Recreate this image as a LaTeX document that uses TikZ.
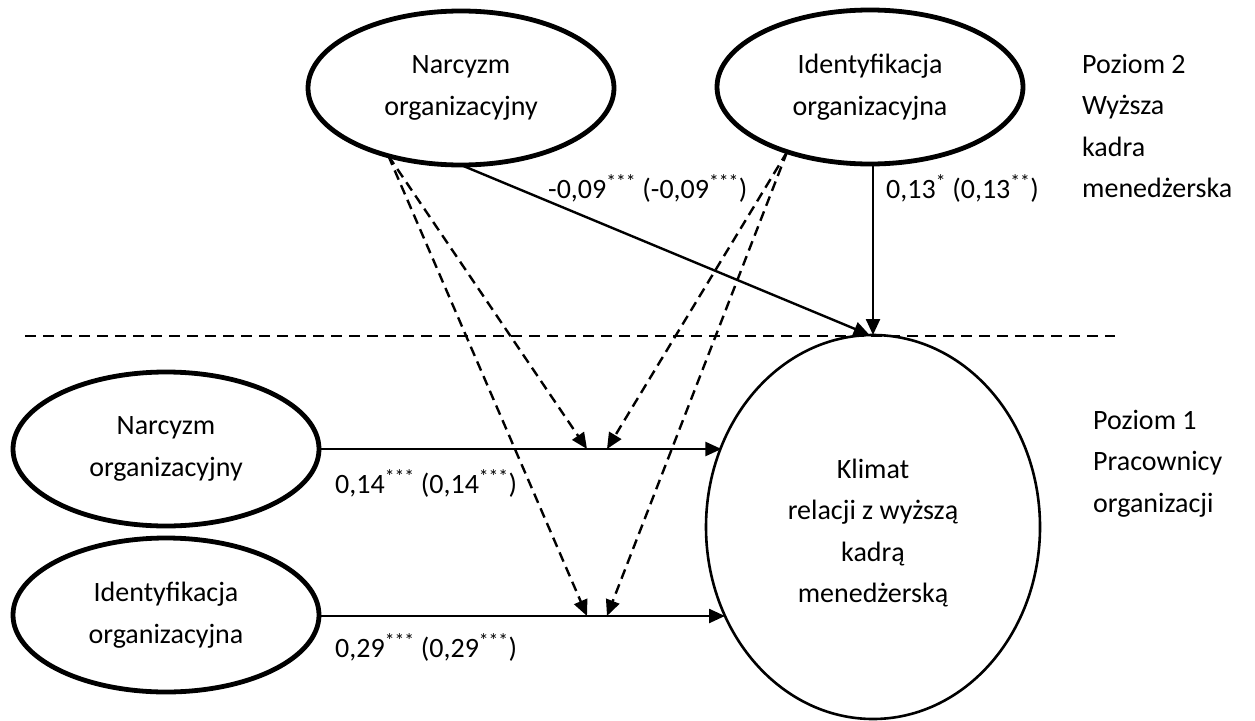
\documentclass[tikz,border=0pt]{standalone}
\usepackage{fontspec}
\setmainfont{Carlito}
\usetikzlibrary{arrows.meta,shapes.geometric}
\begin{document}
\begin{tikzpicture}[x=1pt,y=-1pt,
  txt/.style={font=\fontsize{28}{41.5}\selectfont},
  latent/.style={ellipse, draw, line width=4.8pt, minimum width=306pt,
    minimum height=154pt, inner sep=0pt, outer sep=0pt, align=center, txt},
  outcome/.style={ellipse, draw, line width=2.6pt, minimum width=334pt,
    minimum height=384pt, inner sep=0pt, outer sep=0pt, align=center, txt},
  path/.style={line width=2.4pt, -{Triangle[length=16pt,width=14pt]}},
  modpath/.style={line width=2.4pt, dash pattern=on 10pt off 6pt,
    -{Triangle[length=16pt,width=14pt]}},
  levelsep/.style={line width=1.6pt, dash pattern=on 11pt off 7pt},
  coef/.style={txt, anchor=base west, inner sep=0pt},
  level/.style={txt, anchor=north west, align=left, inner sep=0pt}]
\useasboundingbox (0,0) rectangle (1255,720);

% level 2 predictors
\node[latent] (narT) at (461,88) {Narcyzm\\organizacyjny};
\node[latent] (idT) at (870,87) {Identyfikacja\\organizacyjna};
% level 1 predictors
\node[latent] (narB) at (166,449) {Narcyzm\\organizacyjny};
\node[latent] (idB) at (166,615) {Identyfikacja\\organizacyjna};
% outcome
\node[outcome] (klim) at (873,527)
  {\rule{0pt}{31pt}Klimat\\relacji z wyższą\\kadrą\\menedżerską};

% separator between the two levels
\coordinate (sepL) at (25,336);
\coordinate (sepR) at (1115,336);
\draw[levelsep] (sepL) -- (sepR);

% cross-level moderation points on the level 1 paths
\coordinate (mNa) at (587,449);
\coordinate (mIa) at (607,449);
\coordinate (mNb) at (587,616);
\coordinate (mIb) at (607,616);

% where the level 1 paths meet the outcome border
\coordinate (inN) at (721.4,449);
\coordinate (inI) at (725.0,616);

% direct effects
\draw[path] (narT.south) -- (klim.91.5);
\draw[path] (klim.north |- idT.south) -- (klim.north);
\draw[path] (narB.east |- inN) -- (inN);
\draw[path] (idB.east |- inI) -- (inI);

% moderation
\draw[modpath] (narT.223.4) -- (mNa);
\draw[modpath] (narT.223.4) -- (mNb);
\draw[modpath] (idT.218.5) -- (mIa);
\draw[modpath] (idT.218.5) -- (mIb);

% coefficients
\node[coef] (cNT) at (548,198) {-0,09\textsuperscript{***} (-0,09\textsuperscript{***})};
\node[coef] (cIT) at (886,198) {0,13\textsuperscript{*} (0,13\textsuperscript{**})};
\node[coef] (cNB) at (335,493) {0,14\textsuperscript{***} (0,14\textsuperscript{***})};
\node[coef] (cIB) at (335,657) {0,29\textsuperscript{***} (0,29\textsuperscript{***})};

% level descriptions
\node[level] (lvl2) at (1082,54) {Poziom 2\\Wyższa\\kadra\\menedżerska};
\node[level] (lvl1) at (1093,410) {Poziom 1\\Pracownicy\\organizacji};
\end{tikzpicture}
\end{document}
